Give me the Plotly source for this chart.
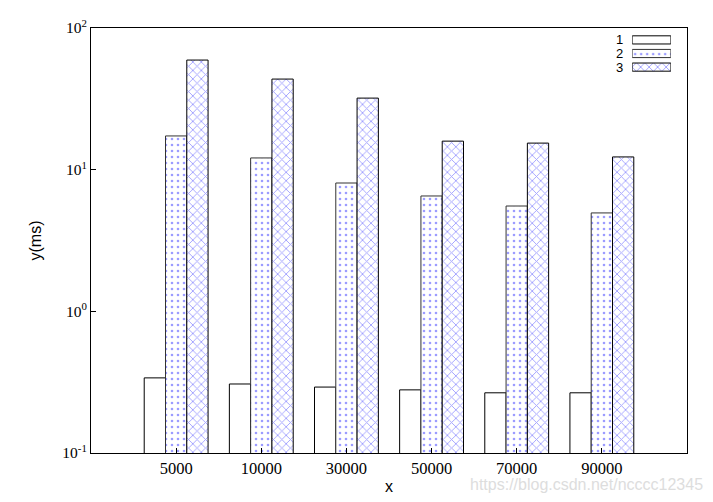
import plotly.graph_objects as go

categories = ["5000", "10000", "30000", "50000", "70000", "90000"]
series_names = ["1", "2", "3"]
s1 = [0.339, 0.307, 0.292, 0.279, 0.266, 0.266]
s2 = [17.3, 12.1, 8.05, 6.52, 5.54, 4.95]
s3 = [59.4, 43.6, 32.0, 15.9, 15.4, 12.3]
y_tickvals = [0.1, 1, 10, 100]
y_ticktext = ["10<sup>-1</sup>", "10<sup>0</sup>", "10<sup>1</sup>", "10<sup>2</sup>"]

styles = [
    dict(color="white", line=dict(color="black", width=1)),
    dict(color="white", line=dict(color="#333333", width=1),
         pattern=dict(shape=".", fgcolor="#3a3aff", bgcolor="white", size=6, solidity=0.15)),
    dict(color="white", line=dict(color="black", width=1),
         pattern=dict(shape="x", fgcolor="#4040ff", bgcolor="white", size=6, solidity=0.28)),
]

fig = go.Figure()
for name, vals, st in zip(series_names, [s1, s2, s3], styles):
    fig.add_trace(go.Bar(x=categories, y=vals, name=name, marker=st, showlegend=False))

# legend key drawn as small horizontal bars on an overlay axis (gnuplot style: label left, sample right)
for name, st in zip(series_names, styles):
    fig.add_trace(go.Bar(x=[1], y=[name], orientation="h", marker=st, name=name,
                         width=0.6, offset=-0.3,
                         xaxis="x2", yaxis="y2", showlegend=False, hoverinfo="skip"))

fig.update_layout(
    width=713, height=502,
    margin=dict(l=91, r=26, t=28, b=49, autoexpand=False),
    paper_bgcolor="white", plot_bgcolor="white",
    barmode="group", bargap=0.25, bargroupgap=0,
    font=dict(family="Liberation Serif", color="black"),
    xaxis=dict(type="category", range=[-1, 6], showline=True, linecolor="black",
               linewidth=1, mirror=True, ticks="inside", ticklen=5, tickcolor="black",
               tickfont=dict(family="Liberation Serif", size=16.5, color="black"),
               title=dict(text="x", font=dict(family="Liberation Sans", size=16), standoff=4),
               showgrid=False, automargin=False),
    yaxis=dict(type="log", range=[-1, 2], showline=True, linecolor="black",
               linewidth=1, mirror=True, ticks="inside", ticklen=5, tickcolor="black",
               tickvals=y_tickvals, ticktext=y_ticktext,
               tickfont=dict(family="Liberation Serif", size=15.5, color="black"),
               title=dict(text="y(ms)", font=dict(family="Liberation Sans", size=16), standoff=16),
               showgrid=False, zeroline=False, automargin=False),
    xaxis2=dict(domain=[0.908, 0.973], anchor="y2", range=[0, 1], visible=False,
                fixedrange=True),
    yaxis2=dict(domain=[0.892, 0.988], anchor="x2", categoryorder="array",
                categoryarray=["3", "2", "1"], tickmode="array", tickvals=series_names,
                showline=False, showgrid=False,
                ticks="", ticklabelstandoff=8, zeroline=False, automargin=False,
                tickfont=dict(family="Liberation Sans", size=13, color="black")),
)

fig.add_annotation(text="https://blog.csdn.net/ncccc12345", xref="paper", yref="paper",
                   x=(704 - 91) / 596, y=(453 - 494) / 425, xanchor="right", yanchor="bottom",
                   showarrow=False, borderpad=0,
                   font=dict(family="Liberation Sans", size=16, color="#dddddd"))

fig.write_html("out.html", config={"displayModeBar": False},
               post_script="document.body.style.margin='0';")
